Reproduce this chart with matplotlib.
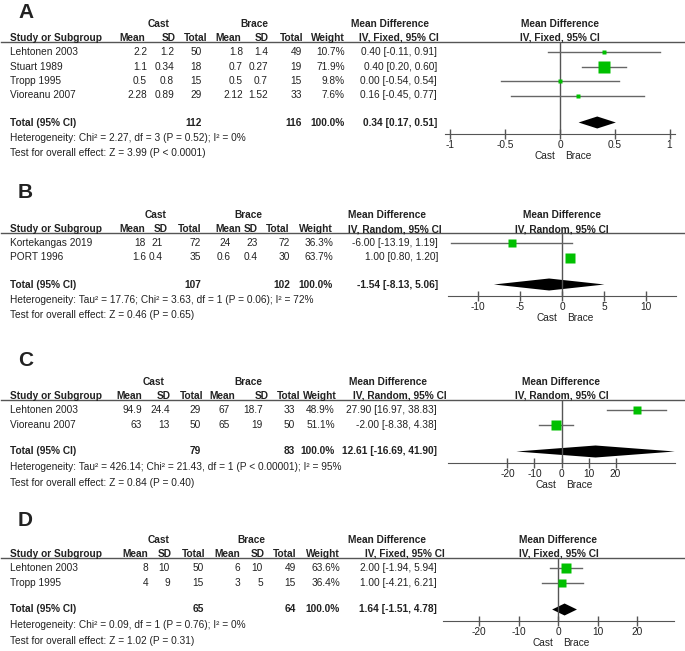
import matplotlib
matplotlib.use("Agg")
import matplotlib.pyplot as plt

W, H = 685, 651

# ---------------- data ----------------
# panel A
studies_a = ["Lehtonen 2003", "Stuart 1989", "Tropp 1995", "Vioreanu 2007"]
cast_mean_a = [2.2, 1.1, 0.5, 2.28]
cast_sd_a = [1.2, 0.34, 0.8, 0.89]
cast_n_a = [50, 18, 15, 29]
brace_mean_a = [1.8, 0.7, 0.5, 2.12]
brace_sd_a = [1.4, 0.27, 0.7, 1.52]
brace_n_a = [49, 19, 15, 33]
weight_a = [10.7, 71.9, 9.8, 7.6]
md_a = [0.40, 0.40, 0.00, 0.16]
lo_a = [-0.11, 0.20, -0.54, -0.45]
hi_a = [0.91, 0.60, 0.54, 0.77]
total_a = [112, 116, 0.34, 0.17, 0.51]
ticks_a = [-1, -0.5, 0, 0.5, 1]
het_a = "Heterogeneity: Chi² = 2.27, df = 3 (P = 0.52); I² = 0%"
test_a = "Test for overall effect: Z = 3.99 (P < 0.0001)"
model_a = "IV, Fixed, 95% CI"

# panel B
studies_b = ["Kortekangas 2019", "PORT 1996"]
cast_mean_b = [18, 1.6]
cast_sd_b = [21, 0.4]
cast_n_b = [72, 35]
brace_mean_b = [24, 0.6]
brace_sd_b = [23, 0.4]
brace_n_b = [72, 30]
weight_b = [36.3, 63.7]
md_b = [-6.00, 1.00]
lo_b = [-13.19, 0.80]
hi_b = [1.19, 1.20]
total_b = [107, 102, -1.54, -8.13, 5.06]
ticks_b = [-10, -5, 0, 5, 10]
het_b = "Heterogeneity: Tau² = 17.76; Chi² = 3.63, df = 1 (P = 0.06); I² = 72%"
test_b = "Test for overall effect: Z = 0.46 (P = 0.65)"
model_b = "IV, Random, 95% CI"

# panel C
studies_c = ["Lehtonen 2003", "Vioreanu 2007"]
cast_mean_c = [94.9, 63]
cast_sd_c = [24.4, 13]
cast_n_c = [29, 50]
brace_mean_c = [67, 65]
brace_sd_c = [18.7, 19]
brace_n_c = [33, 50]
weight_c = [48.9, 51.1]
md_c = [27.90, -2.00]
lo_c = [16.97, -8.38]
hi_c = [38.83, 4.38]
total_c = [79, 83, 12.61, -16.69, 41.90]
ticks_c = [-20, -10, 0, 10, 20]
het_c = "Heterogeneity: Tau² = 426.14; Chi² = 21.43, df = 1 (P < 0.00001); I² = 95%"
test_c = "Test for overall effect: Z = 0.84 (P = 0.40)"
model_c = "IV, Random, 95% CI"

# panel D
studies_d = ["Lehtonen 2003", "Tropp 1995"]
cast_mean_d = [8, 4]
cast_sd_d = [10, 9]
cast_n_d = [50, 15]
brace_mean_d = [6, 3]
brace_sd_d = [10, 5]
brace_n_d = [49, 15]
weight_d = [63.6, 36.4]
md_d = [2.00, 1.00]
lo_d = [-1.94, -4.21]
hi_d = [5.94, 6.21]
total_d = [65, 64, 1.64, -1.51, 4.78]
ticks_d = [-20, -10, 0, 10, 20]
het_d = "Heterogeneity: Chi² = 0.09, df = 1 (P = 0.76); I² = 0%"
test_d = "Test for overall effect: Z = 1.02 (P = 0.31)"
model_d = "IV, Fixed, 95% CI"

# ---------------- layout (pixels from top-left) ----------------
panels = [
    dict(letter="A", top=0, studies=studies_a, cm=cast_mean_a, cs=cast_sd_a, cn=cast_n_a,
         bm=brace_mean_a, bs=brace_sd_a, bn=brace_n_a, w=weight_a, md=md_a, lo=lo_a, hi=hi_a,
         tot=total_a, ticks=ticks_a, het=het_a, test=test_a, model=model_a,
         xlim=(-1.05, 1.05), L=445, R=675,
         hdr=[145, 176, 207, 241, 269, 303, 345, 439], col=[147, 174, 202, 243, 268, 302, 345, 437],
         grp=[159, 254, 390]),
    dict(letter="B", top=160, studies=studies_b, cm=cast_mean_b, cs=cast_sd_b, cn=cast_n_b,
         bm=brace_mean_b, bs=brace_sd_b, bn=brace_n_b, w=weight_b, md=md_b, lo=lo_b, hi=hi_b,
         tot=total_b, ticks=ticks_b, het=het_b, test=test_b, model=model_b,
         xlim=(-13.6, 13.6), L=448, R=676,
         hdr=[145, 168, 201, 241, 258, 289, 333, 442], col=[146, 163, 201, 231, 258, 290, 333, 438],
         grp=[156, 248, 387]),
    dict(letter="C", top=320, studies=studies_c, cm=cast_mean_c, cs=cast_sd_c, cn=cast_n_c,
         bm=brace_mean_c, bs=brace_sd_c, bn=brace_n_c, w=weight_c, md=md_c, lo=lo_c, hi=hi_c,
         tot=total_c, ticks=ticks_c, het=het_c, test=test_c, model=model_c,
         xlim=(-42, 42), L=448, R=675,
         hdr=[142, 171, 203, 235, 269, 300, 337, 447], col=[142, 170, 201, 230, 263, 295, 335, 437],
         grp=[154, 248, 388]),
    dict(letter="D", top=480, studies=studies_d, cm=cast_mean_d, cs=cast_sd_d, cn=cast_n_d,
         bm=brace_mean_d, bs=brace_sd_d, bn=brace_n_d, w=weight_d, md=md_d, lo=lo_d, hi=hi_d,
         tot=total_d, ticks=ticks_d, het=het_d, test=test_d, model=model_d,
         xlim=(-29.2, 29.4), L=443, R=674,
         hdr=[148, 172, 205, 240, 265, 296, 340, 445], col=[148, 170, 204, 240, 263, 296, 340, 437],
         grp=[159, 251, 387]),
]
# vertical offsets inside each panel
off_letter = [12, 32, 41, 40]
off_grp = [24, 55, 62, 60]

TXT = "#222222"
GRAY = "#666666"
GREEN = "#00c000"
FS = 7.3
plt.rcParams["font.family"] = ["Liberation Sans", "DejaVu Sans"]

fig = plt.figure(figsize=(W / 100, H / 100), dpi=100)
base = fig.add_axes([0, 0, 1, 1])
base.set_xlim(0, W)
base.set_ylim(H, 0)
base.axis("off")


def txt(x, y, s, ha="left", bold=False, size=FS):
    base.text(x, y, s, ha=ha, va="center", fontsize=size, color=TXT,
              fontweight="bold" if bold else "normal")


for i, p in enumerate(panels):
    t = p["top"]
    g = off_grp[i]
    y_grp = t + g
    y_hdr = y_grp + 14
    y_line = y_hdr + 4
    y_rows = [y_line + 10 + 14.5 * k for k in range(len(p["studies"]))]
    y_tot = y_rows[-1] + 27
    y_axis = y_tot + 11
    y_het = y_tot + 15.5
    y_test = y_het + 15.5

    txt(18, t + off_letter[i], p["letter"], bold=True, size=15)
    txt(p["grp"][0], y_grp, "Cast", ha="center", bold=True)
    txt(p["grp"][1], y_grp, "Brace", ha="center", bold=True)
    txt(p["grp"][2], y_grp, "Mean Difference", ha="center", bold=True)
    cx = (p["L"] + p["R"]) / 2
    txt(cx, y_grp, "Mean Difference", ha="center", bold=True)

    txt(10, y_hdr, "Study or Subgroup", bold=True)
    names = ["Mean", "SD", "Total", "Mean", "SD", "Total", "Weight", p["model"]]
    for x, s in zip(p["hdr"], names):
        txt(x, y_hdr, s, ha="right", bold=True)
    txt(cx, y_hdr, p["model"], ha="center", bold=True)
    base.plot([1, 684], [y_line, y_line], color="#555555", lw=1)

    for k, y in enumerate(y_rows):
        txt(10, y, p["studies"][k])
        vals = [f"{p['cm'][k]:g}", f"{p['cs'][k]:g}", f"{p['cn'][k]}",
                f"{p['bm'][k]:g}", f"{p['bs'][k]:g}", f"{p['bn'][k]}",
                f"{p['w'][k]:.1f}%",
                f"{p['md'][k]:.2f} [{p['lo'][k]:.2f}, {p['hi'][k]:.2f}]"]
        for x, s in zip(p["col"], vals):
            txt(x, y, s, ha="right")

    nc, nb, m, l, h = p["tot"]
    txt(10, y_tot, "Total (95% CI)", bold=True)
    txt(p["col"][2], y_tot, f"{nc}", ha="right", bold=True)
    txt(p["col"][5], y_tot, f"{nb}", ha="right", bold=True)
    txt(p["col"][6], y_tot, "100.0%", ha="right", bold=True)
    txt(p["col"][7], y_tot, f"{m:.2f} [{l:.2f}, {h:.2f}]", ha="right", bold=True)
    txt(10, y_het, p["het"])
    txt(10, y_test, p["test"])

    # forest plot
    L, R = p["L"], p["R"]
    ax = fig.add_axes([L / W, 1 - y_axis / H, (R - L) / W, (y_axis - y_line) / H])
    ax.set_xlim(*p["xlim"])
    ax.set_ylim(y_axis, y_line)
    ax.patch.set_visible(False)
    for sp in ["top", "left", "right"]:
        ax.spines[sp].set_visible(False)
    ax.spines["bottom"].set_color("#555555")
    ax.set_yticks([])
    ax.axvline(0, color="#555555", lw=1)
    for k, y in enumerate(y_rows):
        ax.plot([p["lo"][k], p["hi"][k]], [y, y], color=GRAY, lw=1)
        side = 2.6 + 0.13 * p["w"][k]
        ax.plot(p["md"][k], y, marker="s", ms=side * 0.72, color=GREEN, mec="none")
    ax.fill([l, m, h, m], [y_tot, y_tot - 6, y_tot, y_tot + 6], color="black", lw=0)
    ax.set_xticks(p["ticks"])
    ax.set_xticklabels([f"{v:g}" for v in p["ticks"]])
    ax.tick_params(axis="x", direction="inout", length=7, width=1, color="#555555",
                   labelsize=FS, labelcolor=TXT, pad=1)
    ax.annotate("Cast", xy=(0, 0), xycoords=("data", "axes fraction"), xytext=(-3.6, -16.5),
                textcoords="offset points", ha="right", va="center", fontsize=FS, color=TXT)
    ax.annotate("Brace", xy=(0, 0), xycoords=("data", "axes fraction"), xytext=(3.6, -16.5),
                textcoords="offset points", ha="left", va="center", fontsize=FS, color=TXT)

fig.savefig("out.png", dpi=100)
